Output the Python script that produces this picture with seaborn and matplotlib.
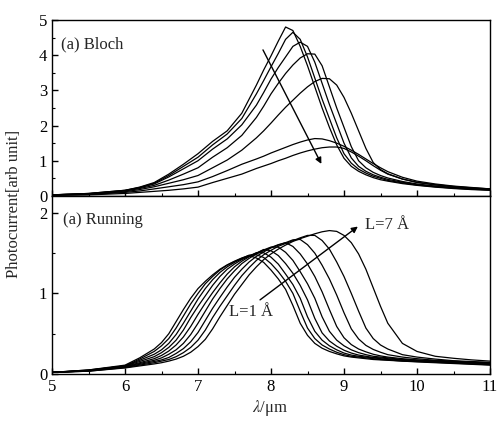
import matplotlib
matplotlib.use("Agg")
import matplotlib.pyplot as plt
import numpy as np
import pandas as pd
import seaborn as sns
from matplotlib.ticker import MultipleLocator

# wavelength grid (um) for the Bloch panel
x_bloch = [5.0, 5.5, 6.0, 6.2, 6.4, 6.6, 6.8, 7.0, 7.2, 7.4, 7.6, 7.8, 7.9, 8.0,
           8.1, 8.2, 8.3, 8.4, 8.5, 8.6, 8.7, 8.8, 8.9, 9.0, 9.1, 9.2, 9.3, 9.4,
           9.5, 9.6, 9.8, 10.0, 10.25, 10.5, 10.75, 11.0]

bloch_1 = [0.03, 0.07, 0.16, 0.25, 0.38, 0.62, 0.9, 1.2, 1.55, 1.85, 2.35, 3.15, 3.58, 3.98,
           4.4, 4.8, 4.7, 4.25, 3.7, 3.1, 2.5, 1.95, 1.45, 1.07, 0.84, 0.7, 0.6, 0.52,
           0.46, 0.42, 0.35, 0.3, 0.25, 0.21, 0.18, 0.16]
bloch_2 = [0.03, 0.07, 0.16, 0.24, 0.36, 0.58, 0.84, 1.1, 1.45, 1.76, 2.2, 2.9, 3.28, 3.67,
           4.05, 4.45, 4.65, 4.45, 3.95, 3.35, 2.75, 2.2, 1.65, 1.2, 0.93, 0.76, 0.65, 0.56,
           0.5, 0.44, 0.37, 0.31, 0.26, 0.22, 0.19, 0.17]
bloch_3 = [0.03, 0.06, 0.15, 0.23, 0.34, 0.54, 0.77, 1.0, 1.33, 1.62, 2.02, 2.58, 2.94, 3.32,
           3.65, 3.95, 4.25, 4.37, 4.25, 3.8, 3.2, 2.6, 2.05, 1.5, 1.08, 0.84, 0.7, 0.6,
           0.53, 0.47, 0.39, 0.32, 0.27, 0.23, 0.2, 0.17]
bloch_4 = [0.03, 0.06, 0.14, 0.21, 0.3, 0.45, 0.62, 0.8, 1.1, 1.37, 1.72, 2.23, 2.55, 2.9,
           3.2, 3.48, 3.72, 3.92, 4.04, 4.03, 3.7, 3.1, 2.5, 1.95, 1.4, 1.0, 0.8, 0.67,
           0.58, 0.51, 0.41, 0.34, 0.28, 0.24, 0.21, 0.18]
bloch_5 = [0.02, 0.05, 0.12, 0.18, 0.26, 0.36, 0.46, 0.58, 0.8, 1.02, 1.3, 1.65, 1.85, 2.07,
           2.3, 2.52, 2.72, 2.92, 3.1, 3.25, 3.34, 3.33, 3.15, 2.8, 2.35, 1.85, 1.35, 0.95,
           0.75, 0.63, 0.48, 0.38, 0.31, 0.26, 0.22, 0.19]
bloch_6 = [0.02, 0.04, 0.1, 0.14, 0.2, 0.26, 0.32, 0.4, 0.55, 0.72, 0.9, 1.05, 1.13, 1.22,
           1.3, 1.38, 1.46, 1.53, 1.59, 1.63, 1.62, 1.57, 1.5, 1.41, 1.3, 1.18, 1.05, 0.92,
           0.8, 0.69, 0.53, 0.42, 0.34, 0.28, 0.24, 0.2]
bloch_7 = [0.02, 0.03, 0.07, 0.1, 0.13, 0.16, 0.2, 0.25, 0.38, 0.5, 0.62, 0.78, 0.85, 0.92,
           1.0, 1.07, 1.15, 1.22, 1.28, 1.33, 1.37, 1.39, 1.39, 1.35, 1.25, 1.13, 1.0, 0.86,
           0.73, 0.62, 0.48, 0.39, 0.32, 0.27, 0.23, 0.2]

# wavelength grid (um) for the Running panel
x_run = [5.0, 5.5, 6.0, 6.2, 6.4, 6.5, 6.6, 6.7, 6.8, 6.9, 7.0, 7.1, 7.2, 7.3, 7.4,
         7.5, 7.6, 7.7, 7.8, 7.9, 8.0, 8.1, 8.2, 8.3, 8.4, 8.5, 8.6, 8.7, 8.8, 8.9,
         9.0, 9.1, 9.2, 9.3, 9.4, 9.5, 9.6, 9.8, 10.0, 10.25, 10.5, 10.75, 11.0]

run_1 = [0.02, 0.05, 0.11, 0.2, 0.31, 0.39, 0.5, 0.65, 0.8, 0.94, 1.06, 1.15, 1.23, 1.3, 1.355,
         1.4, 1.44, 1.47, 1.44, 1.385, 1.29, 1.18, 1.05, 0.85, 0.63, 0.48, 0.38, 0.32, 0.28, 0.25,
         0.225, 0.21, 0.2, 0.19, 0.18, 0.175, 0.17, 0.16, 0.15, 0.14, 0.13, 0.12, 0.11]
run_2 = [0.02, 0.05, 0.1, 0.185, 0.28, 0.35, 0.44, 0.57, 0.72, 0.87, 1.0, 1.12, 1.21, 1.29, 1.35,
         1.395, 1.435, 1.475, 1.48, 1.446, 1.37, 1.27, 1.15, 1.0, 0.78, 0.57, 0.44, 0.36, 0.31, 0.27,
         0.24, 0.22, 0.21, 0.2, 0.19, 0.18, 0.175, 0.16, 0.155, 0.145, 0.135, 0.125, 0.115]
run_3 = [0.02, 0.045, 0.1, 0.17, 0.245, 0.3, 0.38, 0.49, 0.63, 0.78, 0.93, 1.06, 1.17, 1.26, 1.33,
         1.385, 1.43, 1.465, 1.505, 1.505, 1.45, 1.364, 1.24, 1.11, 0.94, 0.71, 0.53, 0.42, 0.35, 0.3,
         0.26, 0.235, 0.22, 0.21, 0.2, 0.19, 0.18, 0.17, 0.16, 0.15, 0.14, 0.13, 0.12]
run_4 = [0.02, 0.045, 0.1, 0.155, 0.215, 0.265, 0.33, 0.42, 0.545, 0.7, 0.84, 0.97, 1.1, 1.21, 1.3,
         1.365, 1.42, 1.46, 1.5, 1.545, 1.53, 1.47, 1.37, 1.25, 1.1, 0.92, 0.69, 0.51, 0.41, 0.345,
         0.295, 0.26, 0.235, 0.22, 0.205, 0.2, 0.19, 0.175, 0.165, 0.155, 0.145, 0.135, 0.125]
run_5 = [0.02, 0.04, 0.095, 0.14, 0.19, 0.23, 0.285, 0.36, 0.46, 0.59, 0.74, 0.88, 1.01, 1.13, 1.24,
         1.33, 1.4, 1.455, 1.5, 1.54, 1.575, 1.575, 1.51, 1.41, 1.27, 1.12, 0.94, 0.71, 0.53, 0.42,
         0.35, 0.3, 0.265, 0.24, 0.22, 0.21, 0.2, 0.18, 0.17, 0.16, 0.15, 0.14, 0.13]
run_6 = [0.02, 0.04, 0.09, 0.13, 0.17, 0.2, 0.245, 0.3, 0.38, 0.49, 0.63, 0.78, 0.93, 1.06, 1.18,
         1.28, 1.37, 1.435, 1.49, 1.53, 1.57, 1.605, 1.63, 1.583, 1.49, 1.365, 1.21, 1.02, 0.8, 0.59,
         0.45, 0.365, 0.31, 0.275, 0.245, 0.225, 0.21, 0.19, 0.175, 0.165, 0.155, 0.145, 0.135]
run_7 = [0.02, 0.04, 0.085, 0.12, 0.155, 0.175, 0.205, 0.255, 0.315, 0.4, 0.515, 0.665, 0.815, 0.95, 1.08,
         1.2, 1.3, 1.39, 1.46, 1.515, 1.565, 1.6, 1.63, 1.665, 1.67, 1.605, 1.5, 1.35, 1.18, 0.98,
         0.76, 0.56, 0.435, 0.355, 0.305, 0.27, 0.24, 0.21, 0.19, 0.17, 0.16, 0.145, 0.14]
run_8 = [0.02, 0.035, 0.08, 0.11, 0.14, 0.16, 0.18, 0.215, 0.265, 0.33, 0.42, 0.545, 0.7, 0.84, 0.97,
         1.1, 1.22, 1.32, 1.41, 1.48, 1.535, 1.585, 1.62, 1.655, 1.69, 1.72, 1.72, 1.657, 1.55, 1.39,
         1.21, 1.0, 0.78, 0.57, 0.44, 0.36, 0.31, 0.24, 0.21, 0.185, 0.165, 0.155, 0.145]
run_9 = [0.02, 0.035, 0.075, 0.1, 0.125, 0.14, 0.16, 0.185, 0.22, 0.27, 0.34, 0.43, 0.56, 0.71, 0.85,
         0.99, 1.11, 1.23, 1.33, 1.42, 1.49, 1.55, 1.6, 1.645, 1.68, 1.71, 1.74, 1.765, 1.78, 1.77,
         1.72, 1.63, 1.49, 1.3, 1.07, 0.84, 0.63, 0.38, 0.28, 0.22, 0.195, 0.175, 0.16]

bloch_curves = [bloch_1, bloch_2, bloch_3, bloch_4, bloch_5, bloch_6, bloch_7]
run_curves = [run_1, run_2, run_3, run_4, run_5, run_6, run_7, run_8, run_9]


def to_long(xs, curves):
    rows = []
    for k, ys in enumerate(curves):
        for x, y in zip(xs, ys):
            rows.append({"wavelength": x, "current": y, "curve": k})
    return pd.DataFrame(rows)


sns.set_theme(style="ticks")
plt.rcParams["font.family"] = ["Liberation Serif", "DejaVu Serif"]
plt.rcParams["mathtext.fontset"] = "stix"

fig = plt.figure(figsize=(5, 4.25), dpi=100)
ax_top = fig.add_axes([0.104, 0.539, 0.876, 0.414])
ax_bot = fig.add_axes([0.104, 0.12, 0.876, 0.419])

for ax, xs, curves in [(ax_top, x_bloch, bloch_curves), (ax_bot, x_run, run_curves)]:
    sns.lineplot(data=to_long(xs, curves), x="wavelength", y="current", units="curve",
                 estimator=None, color="black", lw=0.9, ax=ax, legend=False)
    ax.set_xlim(5, 11)
    ax.set_xlabel("")
    ax.set_ylabel("")
    ax.xaxis.set_major_locator(MultipleLocator(1))
    ax.xaxis.set_minor_locator(MultipleLocator(0.5))
    ax.yaxis.set_minor_locator(MultipleLocator(0.5))
    ax.tick_params(which="both", direction="in", labelsize=12, colors="black")
    ax.tick_params(which="major", length=4, width=1)
    ax.tick_params(which="minor", length=2, width=0.8)
    for sp in ax.spines.values():
        sp.set_color("black")
        sp.set_linewidth(1.0)

ax_top.set_ylim(0, 5)
ax_top.set_yticks([0, 1, 2, 3, 4, 5])
ax_top.tick_params(axis="x", labelbottom=False)
ax_bot.set_ylim(0, 2.21)
ax_bot.set_yticks([0, 1, 2])
ax_bot.set_xticks([5, 6, 7, 8, 9, 10, 11])

ax_top.text(5.12, 4.3, "(a) Bloch", fontsize=12, va="center", ha="left")
ax_bot.text(5.15, 1.91, "(a) Running", fontsize=12, va="center", ha="left")
ax_bot.text(7.42, 0.77, "L=1 Å", fontsize=12, va="center", ha="left")
ax_bot.text(9.29, 1.85, "L=7 Å", fontsize=12, va="center", ha="left")

arrow = dict(arrowstyle="-|>", color="black", lw=1.0, mutation_scale=9, shrinkA=0, shrinkB=0)
ax_top.annotate("", xy=(8.69, 0.91), xytext=(7.89, 4.15), arrowprops=arrow)
ax_bot.annotate("", xy=(9.19, 1.83), xytext=(7.85, 0.92), arrowprops=arrow)

fig.text(0.028, 0.52, "Photocurrent[arb unit]", rotation=90, fontsize=12,
         va="center", ha="center")
fig.text(0.54, 0.04, r"$\lambda$/μm", fontsize=12, va="center", ha="center")

fig.savefig("out.png", dpi=100)
